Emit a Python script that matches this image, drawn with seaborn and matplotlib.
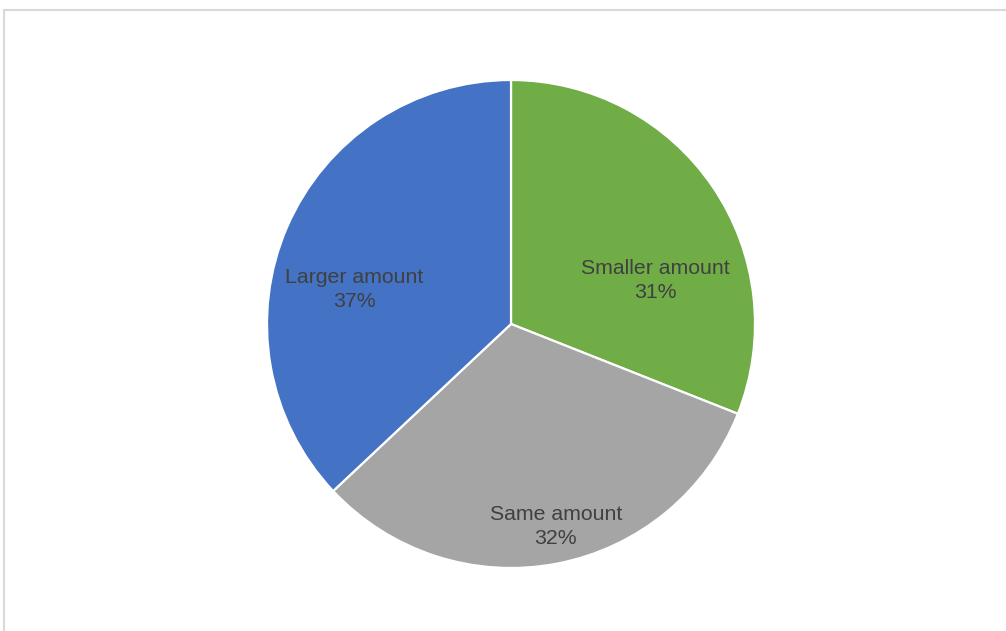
import matplotlib
matplotlib.use("Agg")
import matplotlib.pyplot as plt
from matplotlib.lines import Line2D
import seaborn as sns

# Share of respondents by amount
categories = ["Smaller amount", "Same amount", "Larger amount"]
shares = [31, 32, 37]
colors = ["#70AD47", "#A5A5A5", "#4472C4"]

sns.set_theme(style="white")
plt.rcParams["font.family"] = ["Liberation Sans", "DejaVu Sans"]

W, H = 1006, 631
fig = plt.figure(figsize=(W / 100, H / 100), dpi=100)
fig.patch.set_facecolor("white")

# chart frame: light gray top and left edges
fig.add_artist(Line2D([3.5 / W, 1.0], [1 - 9.5 / H, 1 - 9.5 / H],
                      transform=fig.transFigure, color="#D9D9D9", lw=1.5))
fig.add_artist(Line2D([3.5 / W, 3.5 / W], [0.0, 1 - 9.5 / H],
                      transform=fig.transFigure, color="#D9D9D9", lw=1.5))

cx, cy, r = 511, 324, 244
ax = fig.add_axes([(cx - r) / W, (H - cy - r) / H, 2 * r / W, 2 * r / H])
wedges, _ = ax.pie(
    shares,
    colors=colors,
    startangle=90,
    counterclock=False,
    radius=1.0,
    wedgeprops=dict(edgecolor="white", linewidth=1.6),
)
ax.set_xlim(-1, 1)
ax.set_ylim(-1, 1)
ax.set_aspect("equal")
ax.axis("off")

# data label placement inside each slice
label_pos = [(0.59, 0.178), (0.184, -0.83), (-0.643, 0.142)]
for name, val, (lx, ly) in zip(categories, shares, label_pos):
    ax.text(lx, ly, f"{name}\n{val}%", ha="center", va="center",
            fontsize=15.3, color="#404040", linespacing=1.38)

fig.savefig("out.png", dpi=100, facecolor="white")
